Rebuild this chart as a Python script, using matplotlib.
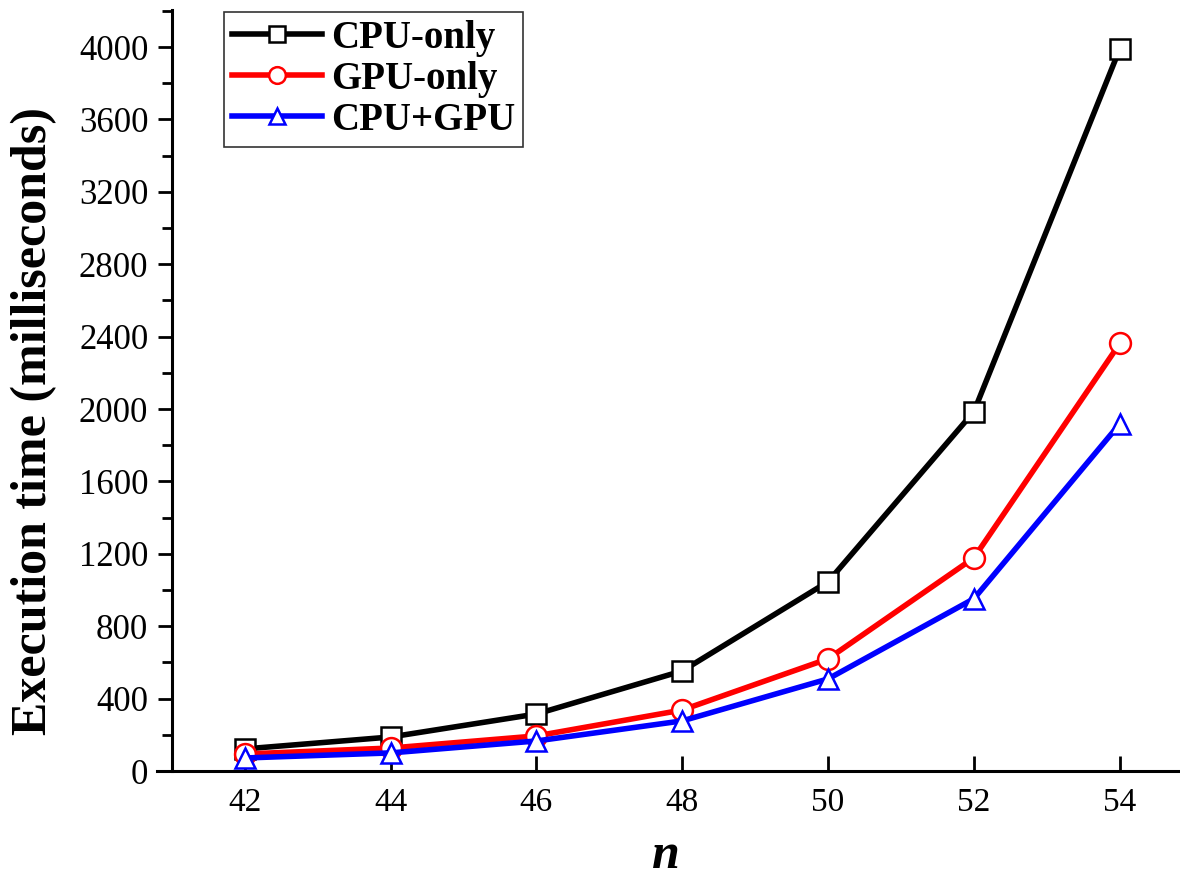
import matplotlib
matplotlib.use('Agg')
from matplotlib import pyplot as plt
from matplotlib.ticker import MultipleLocator

# Problem size n and execution times (ms)
n = [42, 44, 46, 48, 50, 52, 54]
cpu_only = [122, 188, 315, 553, 1046, 1986, 3990]
gpu_only = [94, 127, 194, 337, 620, 1178, 2362]
cpu_gpu = [72, 100, 166, 277, 509, 952, 1918]

plt.rcParams['font.family'] = ['Liberation Serif', 'DejaVu Serif']

fig = plt.figure(figsize=(11.8, 8.85), dpi=100)
ax = fig.add_axes([0.133, 0.1288, 0.866, 0.860])

style = dict(linewidth=4, markersize=15, markeredgewidth=1.8,
             markerfacecolor='white')
ax.plot(n, cpu_only, color='black', marker='s', label='CPU-only', **style)
ax.plot(n, gpu_only, color='#ff0000', marker='o', label='GPU-only', **style)
ax.plot(n, cpu_gpu, color='#0000ff', marker='^', label='CPU+GPU', **style)

ax.set_xlim(40.795, 54.81)
ax.set_ylim(0, 4205)
ax.spines['left'].set_position(('data', 41))
ax.spines['top'].set_visible(False)
ax.spines['right'].set_visible(False)
for s in ('left', 'bottom'):
    ax.spines[s].set_linewidth(2.2)

ax.set_xticks(n)
ax.yaxis.set_major_locator(MultipleLocator(400))
ax.yaxis.set_minor_locator(MultipleLocator(200))
ax.tick_params(axis='x', direction='in', length=11, width=2, labelsize=24, pad=12)
ax.tick_params(axis='y', which='major', direction='out', length=10, width=2,
               labelsize=25, pad=7)
ax.tick_params(axis='y', which='minor', direction='out', length=7, width=2)

ax.set_ylabel('Execution time (milliseconds)', fontsize=36, fontweight='bold')
ax.yaxis.set_label_coords(-0.098, 0.46)
ax.set_xlabel('n', fontsize=36, fontweight='bold', fontstyle='italic',
              va='center')
ax.xaxis.set_label_coords(0.498, -0.112)

leg = ax.legend(loc='upper left', bbox_to_anchor=(0.066, 0.997),
                borderaxespad=0, prop={'weight': 'bold', 'size': 28},
                frameon=True, fancybox=False, edgecolor='black',
                handlelength=2.3, handletextpad=0.25, borderpad=0.2,
                labelspacing=0.1, markerscale=0.8)
leg.get_frame().set_linewidth(1.2)

plt.savefig('out.png', dpi=100)
